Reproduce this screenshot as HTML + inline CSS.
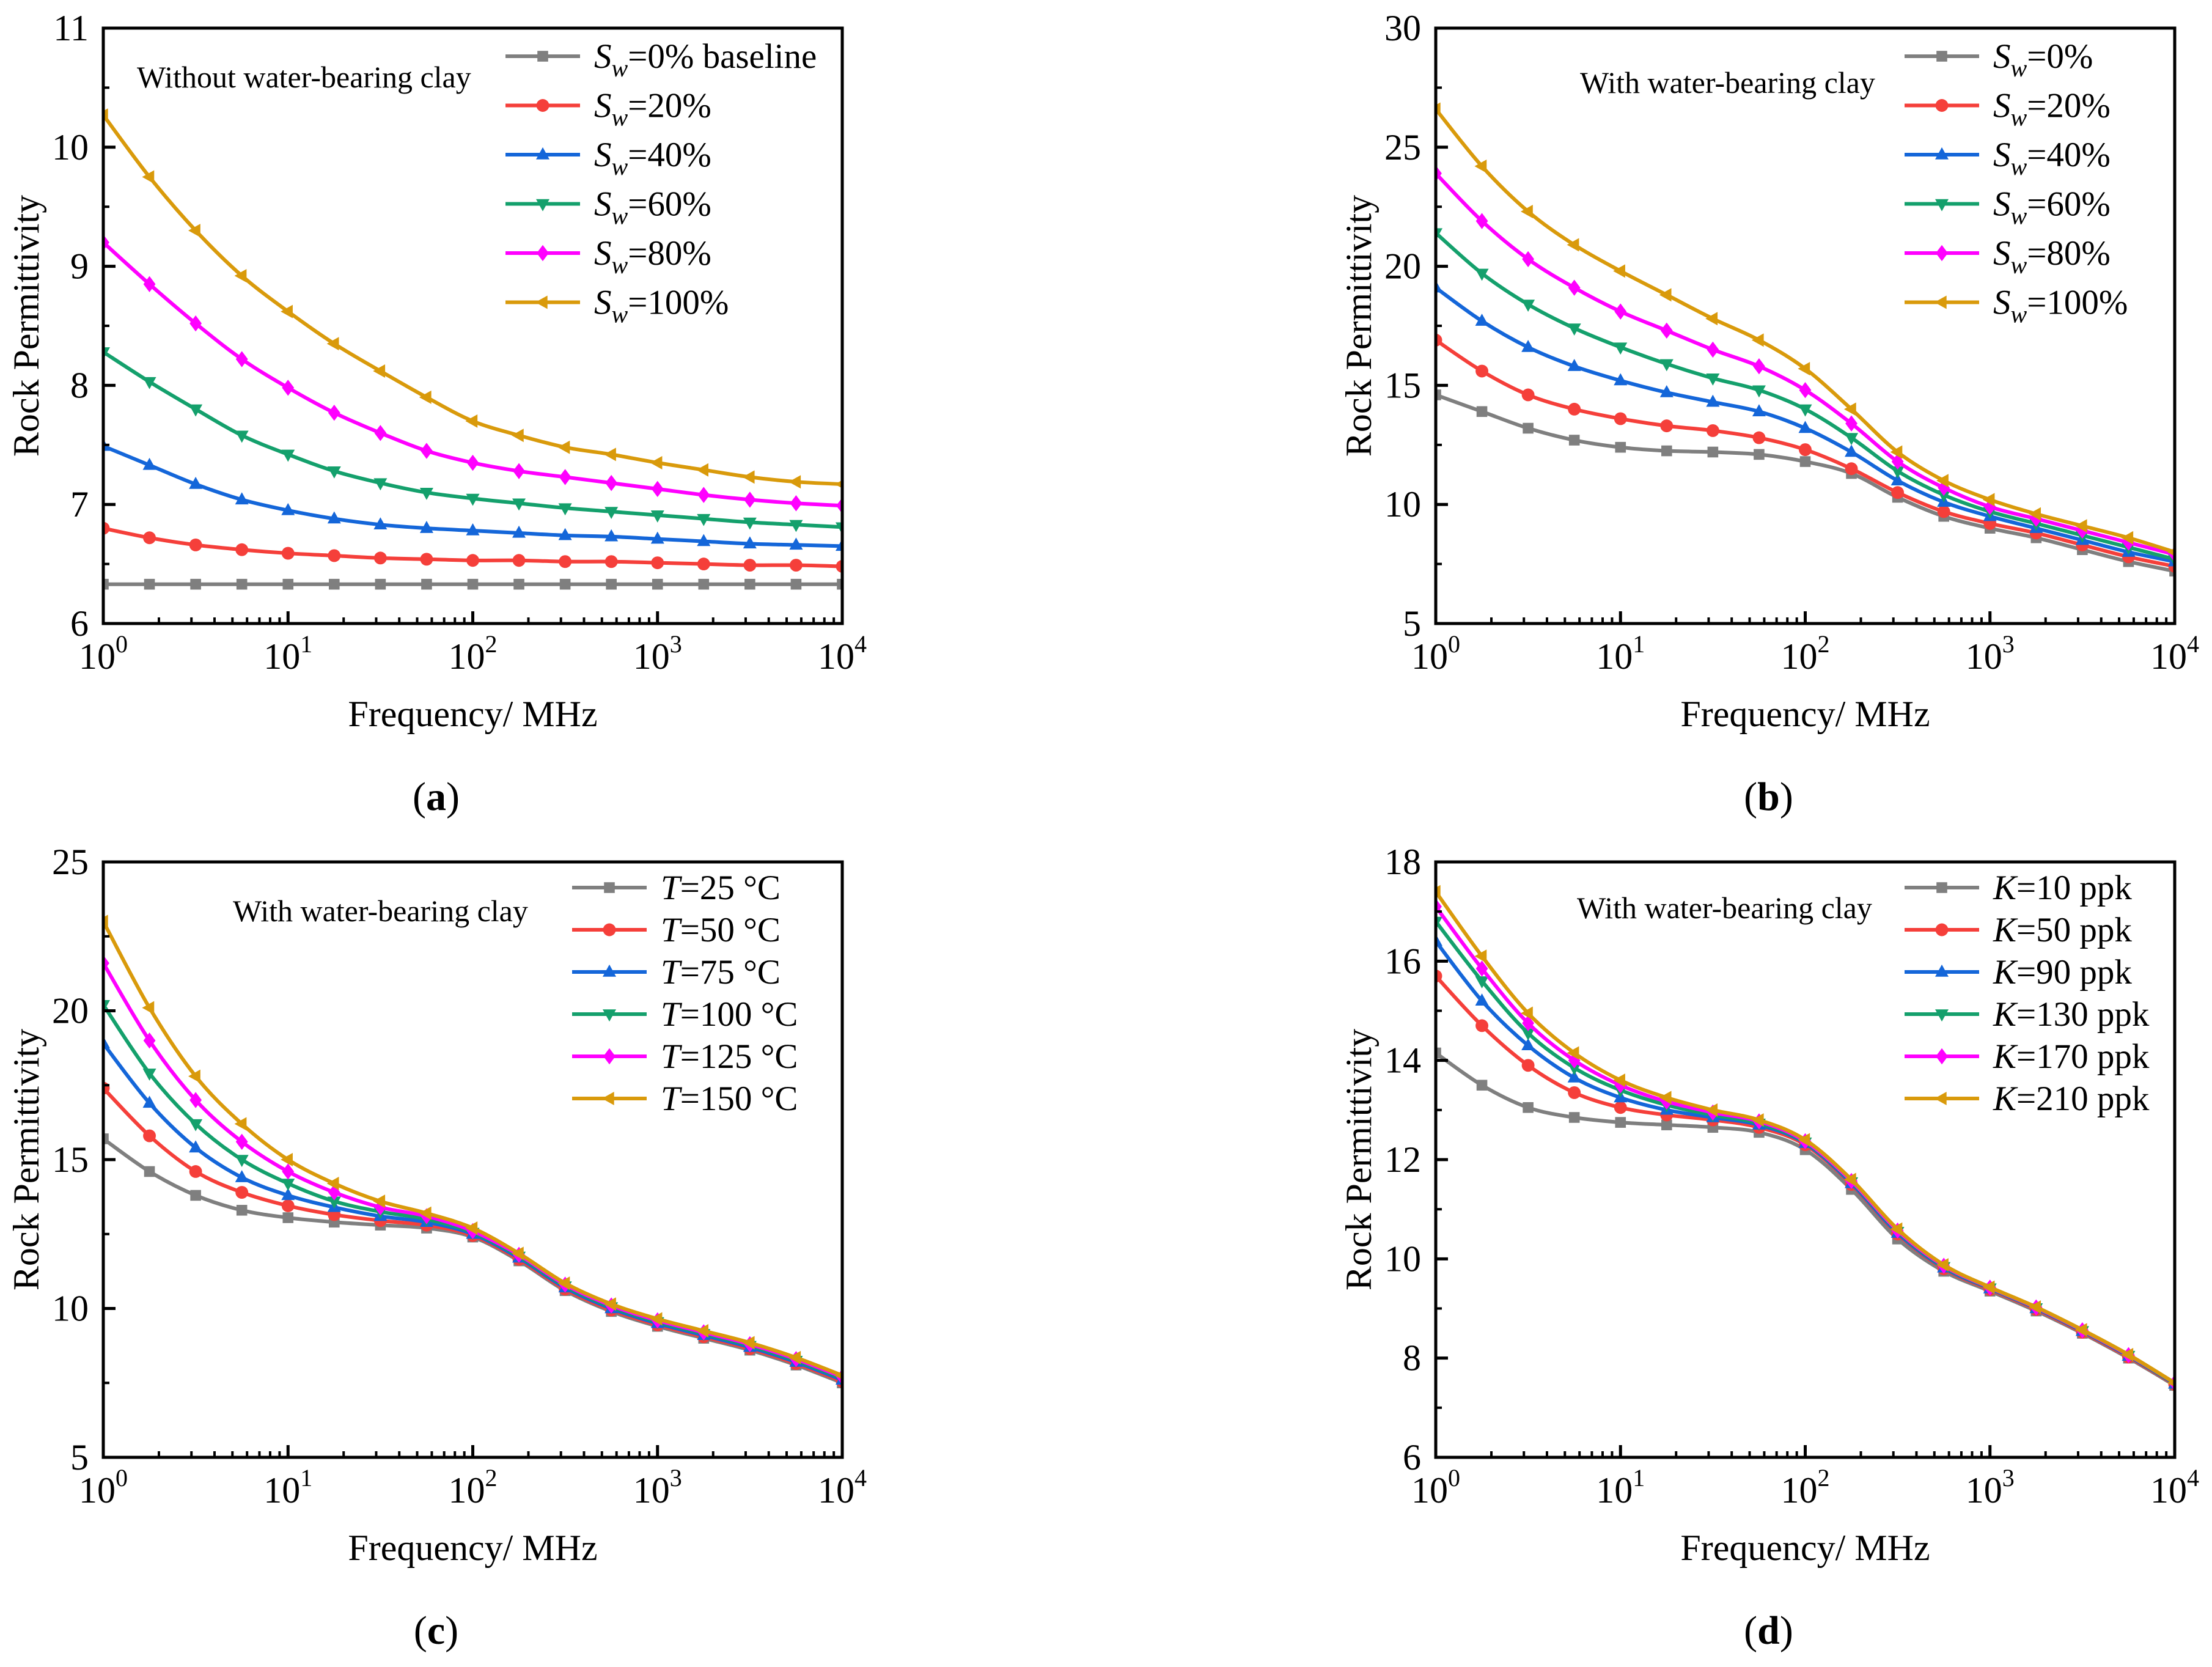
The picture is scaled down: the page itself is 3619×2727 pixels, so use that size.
<!DOCTYPE html>
<html><head><meta charset="utf-8"><style>
html,body{margin:0;padding:0;background:#fff}
svg, svg text{font-family:"Liberation Serif","Times New Roman",serif}
</style></head><body>
<svg id="fig" width="3619" height="2722" viewBox="0 0 3619 2722" xmlns="http://www.w3.org/2000/svg" font-family="Liberation Serif, serif"></svg>
<script>
// shared frequency grid (MHz), quarter-decade readings
const freqs = [1,1.778,3.162,5.623,10,17.78,31.62,56.23,100,177.8,316.2,562.3,1000,1778,3162,5623,10000];
const colors = ['#7f7f7f','#f53f3a','#1466d9','#14a06c','#ff00ff','#d99a0b'];
const markers = ['square','circle','tri-up','tri-down','diamond','tri-left'];

// panel a
const aSeries = [
 [6.33,6.33,6.33,6.33,6.33,6.33,6.33,6.33,6.33,6.33,6.33,6.33,6.33,6.33,6.33,6.33,6.33],
 [6.80,6.72,6.66,6.62,6.59,6.57,6.55,6.54,6.53,6.53,6.52,6.52,6.51,6.50,6.49,6.49,6.48],
 [7.49,7.33,7.17,7.04,6.95,6.88,6.83,6.80,6.78,6.76,6.74,6.73,6.71,6.69,6.67,6.66,6.65],
 [8.28,8.03,7.80,7.58,7.42,7.28,7.18,7.10,7.05,7.01,6.97,6.94,6.91,6.88,6.85,6.83,6.81],
 [9.20,8.85,8.52,8.22,7.98,7.77,7.60,7.45,7.35,7.28,7.23,7.18,7.13,7.08,7.04,7.01,6.99],
 [10.27,9.75,9.30,8.92,8.62,8.35,8.12,7.90,7.70,7.58,7.48,7.42,7.35,7.29,7.23,7.19,7.17]];
const aLabels = ['=0%  baseline','=20%','=40%','=60%','=80%','=100%'];
// panel b
const bSeries = [
 [14.6,13.9,13.2,12.7,12.4,12.25,12.2,12.1,11.8,11.3,10.3,9.5,9.0,8.6,8.1,7.6,7.2],
 [16.9,15.6,14.6,14.0,13.6,13.3,13.1,12.8,12.3,11.5,10.5,9.7,9.2,8.8,8.3,7.8,7.4],
 [19.1,17.7,16.6,15.8,15.2,14.7,14.3,13.9,13.2,12.2,11.0,10.1,9.5,9.0,8.5,8.0,7.6],
 [21.4,19.7,18.4,17.4,16.6,15.9,15.3,14.8,14.0,12.8,11.4,10.4,9.7,9.2,8.7,8.2,7.7],
 [23.9,21.9,20.3,19.1,18.1,17.3,16.5,15.8,14.8,13.4,11.8,10.7,9.9,9.4,8.9,8.4,7.9],
 [26.6,24.2,22.3,20.9,19.8,18.8,17.8,16.9,15.7,14.0,12.2,11.0,10.2,9.6,9.1,8.6,8.0]];
const bLabels = ['=0%','=20%','=40%','=60%','=80%','=100%'];
// panel c
const cSeries = [
 [15.7,14.6,13.8,13.3,13.05,12.9,12.8,12.7,12.4,11.6,10.6,9.9,9.4,9.0,8.6,8.1,7.5],
 [17.4,15.8,14.6,13.9,13.45,13.15,12.95,12.8,12.45,11.65,10.65,9.95,9.45,9.05,8.65,8.15,7.55],
 [18.9,16.9,15.4,14.4,13.8,13.4,13.1,12.9,12.5,11.7,10.7,10.0,9.5,9.1,8.7,8.2,7.6],
 [20.2,17.9,16.2,15.0,14.2,13.6,13.25,13.0,12.55,11.75,10.75,10.05,9.55,9.15,8.75,8.25,7.65],
 [21.6,19.0,17.0,15.6,14.6,13.9,13.4,13.1,12.6,11.8,10.8,10.1,9.6,9.2,8.8,8.3,7.7],
 [23.0,20.1,17.8,16.2,15.0,14.2,13.6,13.2,12.7,11.85,10.85,10.15,9.65,9.25,8.85,8.35,7.75]];
const cLabels = ['=25 °C','=50 °C','=75 °C','=100 °C','=125 °C','=150 °C'];
// panel d
const dSeries = [
 [14.15,13.5,13.05,12.85,12.75,12.7,12.65,12.55,12.2,11.4,10.4,9.75,9.35,8.95,8.5,8.0,7.45],
 [15.7,14.7,13.9,13.35,13.05,12.9,12.8,12.65,12.3,11.5,10.5,9.8,9.38,8.98,8.52,8.02,7.47],
 [16.4,15.2,14.3,13.65,13.25,13.0,12.85,12.7,12.33,11.52,10.52,9.82,9.4,9.0,8.54,8.04,7.48],
 [16.8,15.6,14.55,13.85,13.4,13.1,12.9,12.73,12.35,11.55,10.55,9.84,9.41,9.01,8.55,8.05,7.49],
 [17.1,15.85,14.75,14.0,13.5,13.17,12.95,12.77,12.37,11.57,10.57,9.86,9.42,9.02,8.56,8.06,7.5],
 [17.4,16.1,14.95,14.15,13.6,13.25,13.0,12.8,12.4,11.6,10.6,9.88,9.43,9.03,8.57,8.07,7.5]];
const dLabels = ['=10 ppk','=50 ppk','=90 ppk','=130 ppk','=170 ppk','=210 ppk'];

const NS='http://www.w3.org/2000/svg';
const svg=document.getElementById('fig');
const FF='Liberation Serif, Times New Roman, serif';
function mk(tag,attrs,parent){const e=document.createElementNS(NS,tag);for(const k in attrs)e.setAttribute(k,attrs[k]);if(tag==='text')e.setAttribute('font-family',FF);(parent||svg).appendChild(e);return e;}

function marker(g,type,x,y,col,s){
  let e;
  if(type==='square')e=mk('rect',{x:x-s*0.8,y:y-s*0.8,width:s*1.6,height:s*1.6,fill:col},g);
  else if(type==='circle')e=mk('circle',{cx:x,cy:y,r:s*0.95,fill:col},g);
  else{
    let p;
    if(type==='tri-up')p=[[x,y-s*1.1],[x+s,y+s*0.7],[x-s,y+s*0.7]];
    if(type==='tri-down')p=[[x,y+s*1.1],[x+s,y-s*0.7],[x-s,y-s*0.7]];
    if(type==='tri-left')p=[[x-s*1.1,y],[x+s*0.7,y-s],[x+s*0.7,y+s]];
    if(type==='diamond')p=[[x,y-s*1.2],[x+s*0.9,y],[x,y+s*1.2],[x-s*0.9,y]];
    e=mk('polygon',{points:p.map(q=>q.join(',')).join(' '),fill:col},g);
  }
  return e;
}

function panel(o){
  const L=o.x0,R=o.x0+1209,T=o.y0,B=o.y0+974;
  const g=mk('g',{});
  
  
  const xs=f=>L+(Math.log10(f)/4)*(R-L);
  const ys=v=>B-(v-o.ymin)/(o.ymax-o.ymin)*(B-T);
  const cid='clip'+o.id;
  const cp=mk('clipPath',{id:cid},g);mk('rect',{x:L,y:T,width:R-L,height:B-T},cp);
  o.series.forEach((vals,si)=>{
    const sg=mk('g',{'clip-path':'url(#'+cid+')'},g);
    
    
    const pts=freqs.map((f,i)=>[xs(f),ys(vals[i])]);
    let d='M'+pts[0][0]+','+pts[0][1];
    for(let i=0;i<pts.length-1;i++){
      const p0=pts[Math.max(0,i-1)],p1=pts[i],p2=pts[i+1],p3=pts[Math.min(pts.length-1,i+2)];
      const c1=[p1[0]+(p2[0]-p0[0])/6,p1[1]+(p2[1]-p0[1])/6];
      const c2=[p2[0]-(p3[0]-p1[0])/6,p2[1]-(p3[1]-p1[1])/6];
      d+=' C'+c1.join(',')+' '+c2.join(',')+' '+p2.join(',');
    }
    const ln=mk('path',{d:d,fill:'none',stroke:colors[si],'stroke-width':6},sg);
    
    
    pts.forEach(p=>{const m=marker(sg,markers[si],p[0],p[1],colors[si],11);
      
      });
  });
  const fr=mk('rect',{x:L,y:T,width:R-L,height:B-T,fill:'none',stroke:'#000','stroke-width':5},g);
  
  
  for(let dec=0;dec<=4;dec++){
    const x=xs(Math.pow(10,dec));
    mk('line',{x1:x,y1:B,x2:x,y2:B-20,stroke:'#000','stroke-width':5},g);
    const t=mk('text',{x:x,y:B+74,'font-size':60,'text-anchor':'middle'},g);
    
    
    t.innerHTML='10<tspan dy="-27" font-size="40">'+dec+'</tspan>';
    if(dec<4)for(let k=2;k<=9;k++){const xm=xs(k*Math.pow(10,dec));mk('line',{x1:xm,y1:B,x2:xm,y2:B-10,stroke:'#000','stroke-width':4},g);}
  }
  for(let v=o.ymin;v<=o.ymax+1e-9;v+=o.ystep){
    const y=ys(v);
    mk('line',{x1:L,y1:y,x2:L+20,y2:y,stroke:'#000','stroke-width':5},g);
    const t=mk('text',{x:L-24,y:y+20,'font-size':60,'text-anchor':'end'},g);
    
    
    t.textContent=String(Math.round(v*10)/10);
    if(v+o.ystep/2<o.ymax){const ym=ys(v+o.ystep/2);mk('line',{x1:L,y1:ym,x2:L+10,y2:ym,stroke:'#000','stroke-width':4},g);}
  }
  const yt=mk('text',{x:0,y:0,'font-size':60,'text-anchor':'middle',transform:'translate('+(L-106)+','+((T+B)/2)+') rotate(-90)'},g);
  
  
  yt.textContent='Rock Permittivity';
  const xt=mk('text',{x:(L+R)/2,y:B+168,'font-size':60,'text-anchor':'middle'},g);
  
  
  xt.textContent='Frequency/ MHz';
  const pl=mk('text',{x:(L+R)/2-60,y:B+305,'font-size':66,'text-anchor':'middle'},g);
  
  
  pl.innerHTML='(<tspan font-weight="bold">'+o.id+'</tspan>)';
  const an=mk('text',{x:o.annX,y:o.annY,'font-size':50},g);
  
  
  an.textContent=o.ann;
  o.labels.forEach((lab,i)=>{
    const y=o.legY+i*o.legDy;
    const lg=mk('g',{},g);
    
    
    mk('line',{x1:o.legX,y1:y,x2:o.legX+122,y2:y,stroke:colors[i],'stroke-width':6},lg);
    marker(lg,markers[i],o.legX+61,y,colors[i],11);
    const t=mk('text',{x:o.legX+145,y:y+19,'font-size':57},lg);
    t.innerHTML=o.sym==='S'?'<tspan font-style="italic">S</tspan><tspan font-style="italic" font-size="40" dy="14">w</tspan><tspan dy="-14">'+lab+'</tspan>':'<tspan font-style="italic">'+o.sym+'</tspan>'+lab;
  });
}

panel({id:'a',name:'panel-a',x0:169,y0:46,ymin:6,ymax:11,ystep:1,series:aSeries,labels:aLabels,sym:'S',legX:827,legY:92,legDy:80.5,ann:'Without water-bearing clay',annX:224,annY:143});
panel({id:'b',name:'panel-b',x0:2349,y0:46,ymin:5,ymax:30,ystep:5,series:bSeries,labels:bLabels,sym:'S',legX:3116,legY:92,legDy:80.5,ann:'With water-bearing clay',annX:2585,annY:152});
panel({id:'c',name:'panel-c',x0:169,y0:1410,ymin:5,ymax:25,ystep:5,series:cSeries,labels:cLabels,sym:'T',legX:936,legY:1452,legDy:69,ann:'With water-bearing clay',annX:381,annY:1507});
panel({id:'d',name:'panel-d',x0:2349,y0:1410,ymin:6,ymax:18,ystep:2,series:dSeries,labels:dLabels,sym:'K',legX:3116,legY:1452,legDy:69,ann:'With water-bearing clay',annX:2580,annY:1502});
</script>
</body></html>
